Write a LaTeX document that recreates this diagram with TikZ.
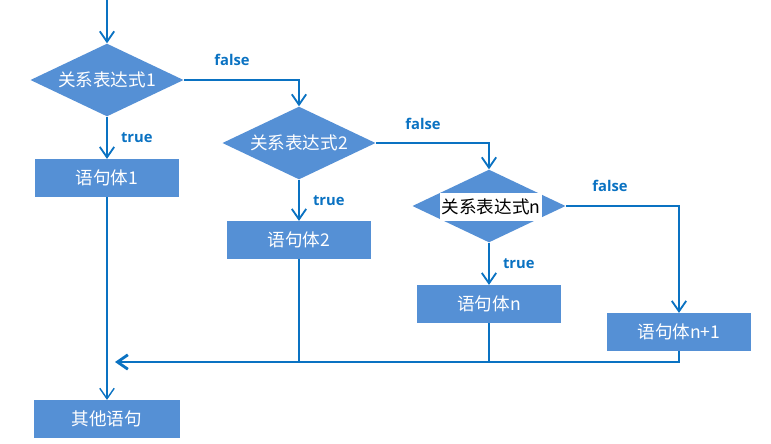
\documentclass[tikz,border=0pt]{standalone}
\usepackage{fontspec}
\usepackage{tikz}
\usepackage{xcolor}
\usetikzlibrary{arrows.meta,positioning,shapes.geometric}
\setmainfont{Open Sans}
\newfontfamily\cjk{Noto Sans CJK SC}
\definecolor{FlowFill}{HTML}{5590D5}
\definecolor{FlowLine}{HTML}{0A72C2}

\begin{document}
\begin{tikzpicture}[x=0.025cm, y=-0.025cm,
    >={Straight Barb[length=2.6mm, width=3.6mm]},
    flowline/.style={draw=FlowLine, line width=1.3pt},
    cond/.style={diamond, fill=FlowFill, aspect=2.1, minimum width=3.83cm,
        minimum height=1.82cm, inner sep=0pt, text=white, font=\cjk\fontsize{12.5}{14}\selectfont},
    stmt/.style={rectangle, fill=FlowFill, minimum width=3.6cm, minimum height=0.94cm,
        inner sep=0pt, text=white, font=\cjk\fontsize{12.5}{14}\selectfont},
    branch/.style={text=FlowLine, font=\bfseries\fontsize{10.5}{12}\selectfont}]

    % Page frame
    \useasboundingbox (0,0) rectangle (771,443);

    % Conditions
    \node[cond] (cond1) at (107,80) {关系表达式1};
    \node[cond] (cond2) at (299,143) {关系表达式2};
    \node[cond] (cond3) at (489,206) {};
    \node[fill=white, text=black, inner sep=1pt, minimum height=0.72cm,
        font=\cjk\fontsize{12.5}{14}\selectfont] (cond3text) at (491,207) {关系表达式n};

    % Statements
    \node[stmt] (body1) at (107,178) {语句体1};
    \node[stmt] (body2) at (299,240) {语句体2};
    \node[stmt] (bodyn) at (489,304) {语句体n};
    \node[stmt] (bodyn1) at (679,332) {语句体n+1};
    \node[stmt, minimum width=3.65cm] (other) at (107,419) {其他语句};

    % Entry
    \coordinate (entry) at (107,0);
    \draw[flowline, ->] (entry) -- (cond1.north);

    % true branches
    \draw[flowline, ->] (cond1.south) -- (body1.north) node[branch, midway, right=6pt] {true};
    \draw[flowline, ->] (cond2.south) -- (body2.north) node[branch, midway, right=6pt] {true};
    \draw[flowline, ->] (cond3.south) -- (bodyn.north) node[branch, midway, right=6pt] {true};

    % false branches
    \draw[flowline, ->] (cond1.east) -| (cond2.north);
    \node[branch] (false1) at (232,60) {false};
    \draw[flowline, ->] (cond2.east) -| (cond3.north);
    \node[branch] (false2) at (423,124) {false};
    \draw[flowline, ->] (cond3.east) -| (bodyn1.north);
    \node[branch] (false3) at (610,186) {false};

    % Merge
    \coordinate (merge) at (115,362);
    \draw[flowline, line width=1pt] (bodyn1.south) |- (body2.south |- merge);
    \draw[flowline, line width=1pt] (body2.south) -- (body2.south |- merge);
    \draw[flowline, line width=1pt] (bodyn.south) -- (bodyn.south |- merge);
    \draw[flowline, line width=2pt, ->] (body2.south |- merge) -- (merge);
    \draw[flowline, line width=1pt, ->] (body1.south) -- (other.north);

\end{tikzpicture}
\end{document}
